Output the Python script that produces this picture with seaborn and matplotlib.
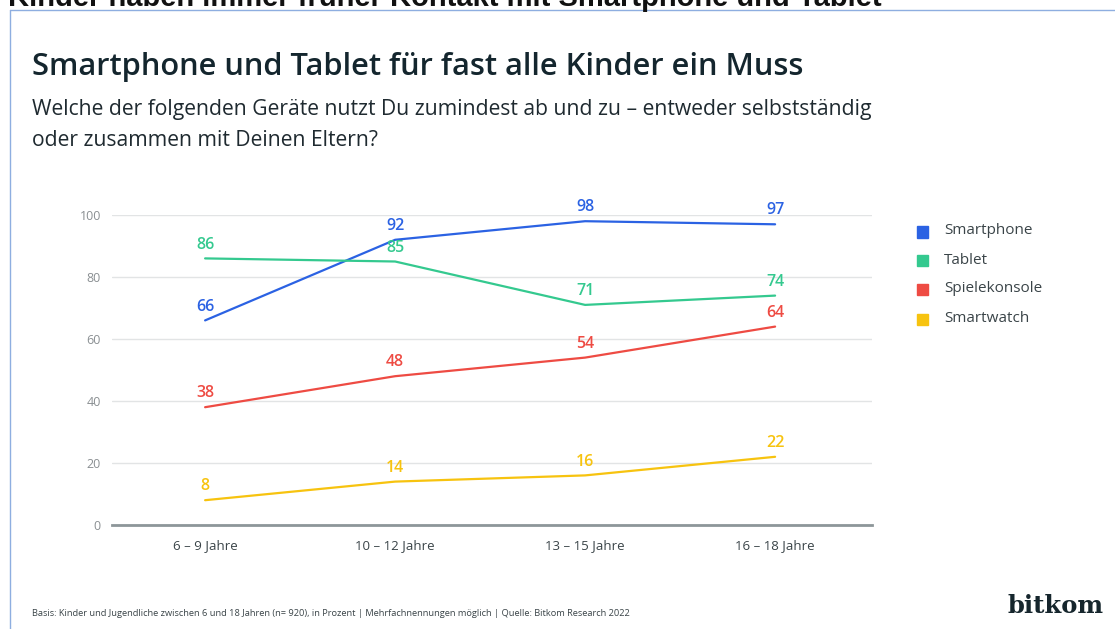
import numpy as np
import pandas as pd
import matplotlib
matplotlib.use('Agg')
import matplotlib.pyplot as plt
import seaborn as sns
from matplotlib.patches import Rectangle

# Daten
altersgruppen = ['6 – 9 Jahre', '10 – 12 Jahre', '13 – 15 Jahre', '16 – 18 Jahre']
smartphone = [66, 92, 98, 97]
tablet = [86, 85, 71, 74]
spielekonsole = [38, 48, 54, 64]
smartwatch = [8, 14, 16, 22]
geraete = ['Smartphone', 'Tablet', 'Spielekonsole', 'Smartwatch']
farben = ['#2b62e3', '#34c98f', '#ee4b43', '#f7c30f']
y_ticks = [0, 20, 40, 60, 80, 100]

sns.set_theme(style='white')
plt.rcParams['font.family'] = ['Open Sans', 'DejaVu Sans']

werte = [smartphone, tablet, spielekonsole, smartwatch]
rows = []
for g, vals in zip(geraete, werte):
    for i, v in enumerate(vals):
        rows.append({'Gruppe': i, 'Gerät': g, 'Wert': v})
df = pd.DataFrame(rows)

fig = plt.figure(figsize=(11.15, 6.29), dpi=100)
fig.patch.set_facecolor('white')
ax = fig.add_axes([112 / 1115, 1 - 525 / 629, 760 / 1115, 310 / 629])

sns.lineplot(data=df, x='Gruppe', y='Wert', hue='Gerät', palette=farben,
             hue_order=geraete, linewidth=1.6, ax=ax, legend=False)

# Wertebeschriftungen
for g, vals, c in zip(geraete, werte, farben):
    for i, v in enumerate(vals):
        ax.annotate(str(v), (i, v), xytext=(0, 10), textcoords='offset points',
                    ha='center', va='center', color=c, fontsize=11.5,
                    fontweight='semibold')

ax.set_xlim(-0.49, 3.51)
ax.set_ylim(0, 100)
ax.set_yticks(y_ticks)
ax.set_xticks(range(len(altersgruppen)))
ax.set_xticklabels(altersgruppen, color='#3a4448', fontsize=9.5)
ax.tick_params(axis='y', colors='#8a8f92', labelsize=9, length=0, pad=8)
ax.tick_params(axis='x', length=0, pad=10)
ax.set_xlabel('')
ax.set_ylabel('')
ax.grid(axis='y', color='#e2e4e5', linewidth=1)
for s in ['top', 'right', 'left']:
    ax.spines[s].set_visible(False)
ax.spines['bottom'].set_color('#8d9699')
ax.spines['bottom'].set_linewidth(2)
ax.set_facecolor('none')

# Legende
for k, (g, c) in enumerate(zip(geraete, farben)):
    y = 1 - (232 + 29 * k) / 629
    fig.patches.append(Rectangle((917 / 1115, y - 5.5 / 629), 11 / 1115, 11 / 629,
                                 transform=fig.transFigure, color=c))
    fig.text(944 / 1115, y + 1 / 629, g, color='#3a4448', fontsize=11, va='center', ha='left')

# Rahmen
fig.add_artist(plt.Line2D([10 / 1115, 1], [1 - 10 / 629, 1 - 10 / 629],
                          transform=fig.transFigure, color='#8eaee0', linewidth=1))
fig.add_artist(plt.Line2D([10 / 1115, 10 / 1115], [0, 1 - 10 / 629],
                          transform=fig.transFigure, color='#8eaee0', linewidth=1))

# Texte (Überschrift oben ist im Original abgeschnitten)
fig.text(8 / 1115, 1 - 6 / 629, 'Kinder haben immer früher Kontakt mit Smartphone und Tablet',
         fontsize=21, fontweight='bold', color='#111111', va='baseline', ha='left',
         family=['Liberation Sans', 'DejaVu Sans'])
fig.text(32 / 1115, 1 - 67 / 629, 'Smartphone und Tablet für fast alle Kinder ein Muss',
         fontsize=22.2, color='#14262e', va='center', ha='left', fontweight='semibold')
fig.text(32 / 1115, 1 - 109 / 629,
         'Welche der folgenden Geräte nutzt Du zumindest ab und zu – entweder selbstständig',
         fontsize=15.2, color='#1f2a30', va='center', ha='left')
fig.text(32 / 1115, 1 - 140 / 629, 'oder zusammen mit Deinen Eltern?',
         fontsize=15.2, color='#1f2a30', va='center', ha='left')
fig.text(32 / 1115, 1 - 613 / 629,
         'Basis: Kinder und Jugendliche zwischen 6 und 18 Jahren (n= 920), in Prozent | '
         'Mehrfachnennungen möglich | Quelle: Bitkom Research 2022',
         fontsize=6.7, color='#3a4448', va='center', ha='left')
fig.text(1104 / 1115, 1 - 606 / 629, 'bitkom', fontsize=17.5, color='#16262d',
         va='center', ha='right', fontweight='bold', family=['DejaVu Serif'])

fig.savefig('out.png', dpi=100)
